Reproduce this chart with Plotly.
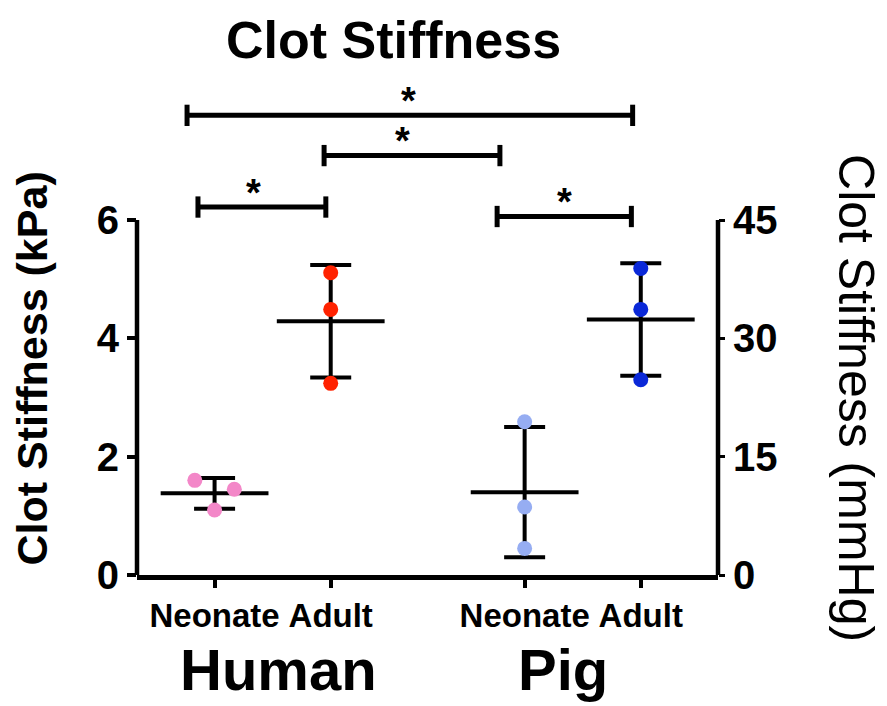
import plotly.graph_objects as go

# ---------------- data ----------------
groups = ["Human Neonate", "Human Adult", "Pig Neonate", "Pig Adult"]
tick_labels = ["Neonate", "Adult", "Neonate", "Adult"]
species = ["Human", "Pig"]
x_pos = [1.0, 2.0, 3.67, 4.67]
species_x = [1.55, 4.0]

human_neonate = [1.60, 1.45, 1.10]
human_adult = [5.11, 4.49, 3.24]
pig_neonate = [2.59, 1.15, 0.45]
pig_adult = [5.18, 4.49, 3.30]
point_jitter = [[-0.17, 0.17, 0.0], [0, 0, 0], [0, 0, 0], [0, 0, 0]]

means = [1.38, 4.29, 1.40, 4.32]
sds = [0.26, 0.95, 1.10, 0.95]

colors = ["#F387C8", "#FF2200", "#96ADF2", "#0A28D8"]

# significance brackets
sig_x0 = [0.857, 0.763, 1.943, 3.433]
sig_x1 = [1.958, 4.600, 3.457, 4.589]
sig_y = [6.22, 7.77, 7.09, 6.06]
sig_star_x = [1.333, 2.666, 2.62, 4.016]
sig_text = ["*", "*", "*", "*"]

left_ticks = [0, 2, 4, 6]
right_ticks = [0, 15, 30, 45]
kpa_to_mmhg = 7.5

Y_TOP = 8.3
FONT = "Arial, Liberation Sans, Helvetica, sans-serif"
PAGE_PAD = 8  # default body margin of the html page

values = [human_neonate, human_adult, pig_neonate, pig_adult]

fig = go.Figure()

# mean line + SD error bars
fig.add_trace(go.Scatter(
    x=x_pos, y=means, mode="markers",
    marker=dict(symbol="line-ew", size=77, color="black",
                line=dict(width=4, color="black")),
    error_y=dict(type="data", array=sds, visible=True, color="black",
                 thickness=4, width=20.5),
    showlegend=False, hoverinfo="skip", cliponaxis=False,
))

# individual points
for i, vals in enumerate(values):
    fig.add_trace(go.Scatter(
        x=[x_pos[i] + j for j in point_jitter[i]], y=vals, mode="markers",
        marker=dict(size=15, color=colors[i], line=dict(width=0)),
        name=groups[i], showlegend=False, cliponaxis=False,
    ))

# dummy trace for right axis
fig.add_trace(go.Scatter(x=[x_pos[0]], y=[0], yaxis="y2", mode="markers",
                         marker=dict(opacity=0), showlegend=False, hoverinfo="skip"))

shapes = []
# left and right axis lines (0..6 only)
for xp in (0, 1):
    shapes.append(dict(type="line", xref="paper", yref="paper",
                       x0=xp, x1=xp, y0=0, y1=6 / Y_TOP,
                       line=dict(color="black", width=4.5)))
# brackets
cap = 0.18
for a, b, h in zip(sig_x0, sig_x1, sig_y):
    shapes.append(dict(type="line", xref="x", yref="y", x0=a, x1=b, y0=h, y1=h,
                       line=dict(color="black", width=5)))
    for xe in (a, b):
        shapes.append(dict(type="line", xref="x", yref="y", x0=xe, x1=xe,
                           y0=h - cap, y1=h + cap,
                           line=dict(color="black", width=5)))

annotations = []
for sx, h, t in zip(sig_star_x, sig_y, sig_text):
    annotations.append(dict(x=sx, y=h - 0.15, xref="x", yref="y", text=t,
                            showarrow=False, yanchor="bottom", xanchor="center",
                            font=dict(family=FONT, size=38, color="black", weight="bold")))
for sx, name in zip(species_x, species):
    annotations.append(dict(x=sx, y=-0.122, xref="x", yref="paper", text=name,
                            showarrow=False, yanchor="top", xanchor="center",
                            font=dict(family=FONT, size=58, color="black", weight="bold")))
annotations.append(dict(x=0.4418, y=1.153, xref="paper", yref="paper",
                        text="Clot Stiffness", showarrow=False, yanchor="top",
                        xanchor="center",
                        font=dict(family=FONT, size=52, color="black", weight="bold")))
annotations.append(dict(x=-0.1815, y=0.4196, xref="paper", yref="paper",
                        text="Clot Stiffness (kPa)", showarrow=False, textangle=-90,
                        xanchor="center", yanchor="middle", borderpad=0,
                        font=dict(family=FONT, size=43, color="black", weight="bold")))
annotations.append(dict(x=1.2374, y=0.3605, xref="paper", yref="paper",
                        text="Clot Stiffness (mmHg)", showarrow=False, textangle=90,
                        xanchor="center", yanchor="middle",
                        font=dict(family=FONT, size=50, color="black")))

fig.update_layout(
    template="none",
    width=887 - PAGE_PAD, height=706 - PAGE_PAD,
    margin=dict(l=137 - PAGE_PAD, r=169, t=84 - PAGE_PAD, b=131),
    paper_bgcolor="white", plot_bgcolor="white",
    showlegend=False,
    xaxis=dict(range=[0.332, 5.335], showline=True, linecolor="black", linewidth=4.5,
               ticks="outside", ticklen=8, tickwidth=4, tickcolor="black",
               tickvals=x_pos, ticktext=tick_labels, automargin=False,
               tickfont=dict(family=FONT, size=33, color="black", weight="bold"),
               showgrid=False, zeroline=False),
    yaxis=dict(range=[0, Y_TOP], tickvals=left_ticks, ticks="outside", ticklen=9,
               tickwidth=4, tickcolor="black", showline=False, showgrid=False,
               zeroline=False, automargin=False,
               tickfont=dict(family=FONT, size=40, color="black", weight="bold")),
    yaxis2=dict(range=[0, Y_TOP * kpa_to_mmhg], overlaying="y", side="right",
                tickvals=right_ticks, ticks="outside", ticklen=6, tickwidth=3,
                tickcolor="black", showline=False, showgrid=False, zeroline=False,
                automargin=False,
                tickfont=dict(family=FONT, size=40, color="black", weight="bold")),
    shapes=shapes, annotations=annotations,
)

fig.write_html("out.html")
